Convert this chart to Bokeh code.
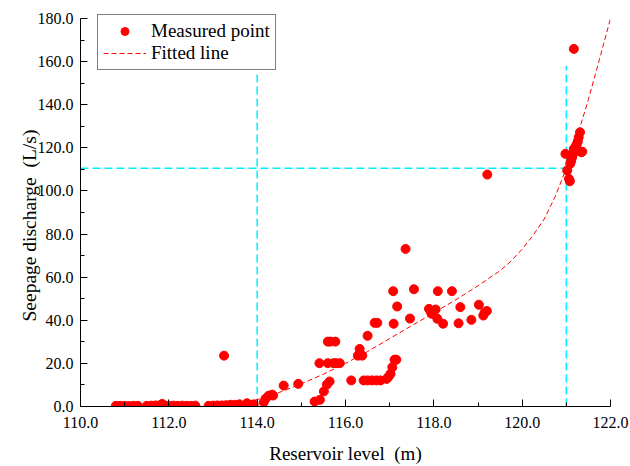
from bokeh.plotting import figure
from bokeh.models import Range1d, FixedTicker, PrintfTickFormatter, ColumnDataSource
from bokeh.embed import file_html
from bokeh.resources import INLINE

# ---------------- data ----------------
level = [
    110.80, 110.90, 111.00, 111.10, 111.20, 111.30, 111.50, 111.60, 111.70, 111.80,
    111.85, 111.90, 112.00, 112.10, 112.20, 112.30, 112.40, 112.50, 112.60, 112.90,
    113.00, 113.10, 113.20, 113.30, 113.40, 113.50, 113.60, 113.77, 113.92, 114.15,
    114.19, 114.26, 114.34, 114.36, 114.60, 114.93, 113.25,
    115.30, 115.42, 115.51, 115.58, 115.64, 115.41, 115.60, 115.73, 115.78, 115.87,
    115.60, 115.66, 115.77, 116.13, 116.32, 116.28, 116.33, 116.38, 116.50, 116.66,
    116.72, 116.41, 116.50, 116.60, 116.70, 116.79, 116.93, 116.98, 117.02, 117.06,
    117.11, 117.15, 117.08, 117.17, 117.09, 117.36, 117.46, 117.55, 117.89, 117.93,
    117.95, 118.04, 118.08, 118.09, 118.21, 118.41, 118.56, 118.60, 118.85, 119.02,
    119.12, 119.15, 119.20, 119.21,
    120.98, 121.02, 121.06, 121.08, 121.09, 121.11, 121.13, 121.15, 121.17, 121.20,
    121.22, 121.24, 121.26, 121.28, 121.31, 121.34, 121.36, 121.17,
]
discharge = [
    0.3, 0.3, 0.3, 0.2, 0.3, 0.3, 0.3, 0.4, 0.5, 0.6,
    1.2, 0.5, 0.4, 0.4, 0.3, 0.4, 0.3, 0.3, 0.4, 0.3,
    0.4, 0.5, 0.5, 0.6, 0.8, 0.8, 1.0, 1.5, 1.0, 2.0,
    3.6, 5.0, 5.5, 5.1, 9.7, 10.5, 23.6,
    2.3, 3.1, 7.0, 10.2, 11.6, 20.1, 20.1, 20.1, 20.1, 20.1,
    30.1, 30.1, 30.1, 12.1, 26.7, 23.6, 24.2, 23.6, 32.8, 38.8,
    38.8, 12.1, 12.1, 12.1, 12.1, 12.1, 12.8, 13.9, 15.2, 18.2,
    21.7, 21.7, 53.5, 46.4, 38.4, 73.1, 40.8, 54.4, 45.3, 44.0,
    43.0, 45.0, 40.7, 53.5, 38.4, 53.5, 38.6, 46.1, 40.2, 47.2,
    42.2, 43.6, 44.3, 107.6,
    117.2, 109.5, 105.6, 104.5, 112.6, 114.0, 115.6, 117.0, 119.5, 120.0,
    121.0, 121.8, 123.0, 124.9, 127.2, 118.0, 118.2, 165.9,
]

fit_level = [113.6, 114.0, 114.5, 115.0, 115.5, 116.0, 116.5, 117.0, 117.5, 118.0,
             118.5, 119.0, 119.5, 119.75, 120.0, 120.25, 120.5, 120.75, 121.0, 121.25,
             121.5, 121.75, 122.0]
fit_discharge = [1.0, 3.2, 6.5, 10.5, 15.0, 20.0, 25.5, 31.5, 37.5, 43.5,
                 49.5, 56.0, 63.0, 67.5, 73.0, 79.5, 87.0, 97.5, 110.5, 125.5,
                 142.5, 161.0, 180.0]

ref_levels = [114.0, 121.0]
ref_tops = [155.0, 158.0]
ref_discharge = 110.5

x_ticks = [110, 112, 114, 116, 118, 120, 122]
x_minor = [111, 113, 115, 117, 119, 121]
y_ticks = [0, 20, 40, 60, 80, 100, 120, 140, 160, 180]
y_minor = [10, 30, 50, 70, 90, 110, 130, 150, 170]

x_label = "Reservoir level\u00a0\u00a0(m)"
y_label = "Seepage discharge\u00a0\u00a0(L/s)" + "\u00a0" * 7
legend_labels = ["Measured point", "Fitted line"]

# ---------------- figure ----------------
FONT = "Liberation Serif"
p = figure(width=630, height=466, output_backend="svg", toolbar_location=None,
           x_range=Range1d(110, 122), y_range=Range1d(0, 183.71),
           min_border_left=80, min_border_right=20, min_border_top=10, min_border_bottom=60)
p.xgrid.visible = False
p.ygrid.visible = False
p.outline_line_color = None
p.background_fill_color = "white"
p.border_fill_color = "white"

# reference (cyan) lines
p.segment(x0=ref_levels, y0=[0, 0], x1=ref_levels, y1=ref_tops,
          line_color="#00EEFF", line_width=1.5, line_dash="8 4")
p.segment(x0=[110], y0=[ref_discharge], x1=[ref_levels[1]], y1=[ref_discharge],
          line_color="#00EEFF", line_width=1.5, line_dash="8 4")

src = ColumnDataSource(dict(x=level, y=discharge))
pts = p.scatter("x", "y", source=src, size=9, color="#FF0000", line_color="#FF0000",
                legend_label=legend_labels[0])
fit = p.line(fit_level, fit_discharge, line_color="#FF0000", line_width=1, line_dash="5 3",
             legend_label=legend_labels[1])

for ax, ticks, minor in ((p.xaxis[0], x_ticks, x_minor), (p.yaxis[0], y_ticks, y_minor)):
    ax.ticker = FixedTicker(ticks=ticks, minor_ticks=minor)
    ax.formatter = PrintfTickFormatter(format="%.1f")
    ax.major_tick_in = 7
    ax.major_tick_out = 0
    ax.minor_tick_in = 4
    ax.minor_tick_out = 0
    ax.axis_line_color = "black"
    ax.major_tick_line_color = "black"
    ax.minor_tick_line_color = "black"
    ax.major_label_text_font = FONT
    ax.major_label_text_font_size = "16px"
    ax.major_label_text_color = "black"
    ax.axis_label_text_font = FONT
    ax.axis_label_text_font_style = "normal"
    ax.axis_label_text_color = "black"

p.yaxis.bounds = (0, 180)
p.xaxis.major_label_standoff = 10
p.yaxis.major_label_standoff = 7
p.xaxis.axis_label = x_label
p.yaxis.axis_label = y_label
p.xaxis.axis_label_text_font_size = "19px"
p.yaxis.axis_label_text_font_size = "19.5px"
p.xaxis.axis_label_standoff = 12
p.yaxis.axis_label_standoff = -5

lg = p.legend[0]
lg.location = (17, 336)
lg.label_text_font = FONT
lg.label_text_font_size = "19px"
lg.label_text_color = "black"
lg.glyph_width = 43
lg.glyph_height = 20
lg.label_height = 20
lg.label_standoff = 5
lg.padding = 5
lg.spacing = 0
lg.margin = 0
lg.border_line_color = "black"
lg.border_line_width = 1
lg.background_fill_alpha = 1.0

open("out.html", "w").write(file_html(p, INLINE))
